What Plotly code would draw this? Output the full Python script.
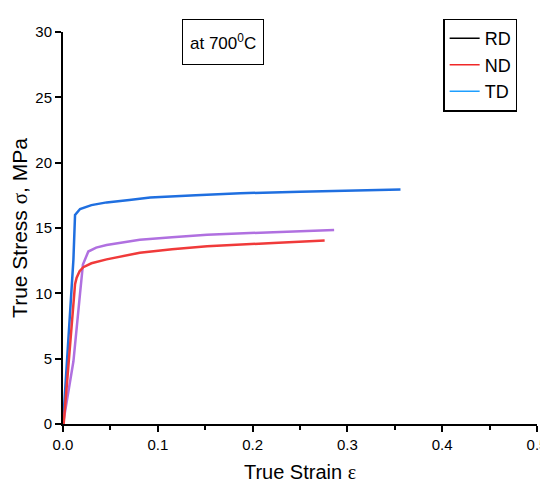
import plotly.graph_objects as go

# curve points (true strain, true stress in MPa)
blue_strain = [0.0, 0.0045, 0.0092, 0.011, 0.0127, 0.018, 0.03, 0.046, 0.07, 0.092, 0.14, 0.187, 0.25, 0.313, 0.356]
blue_stress = [0.0, 5.3, 10.7, 12.6, 16.0, 16.45, 16.75, 16.96, 17.15, 17.33, 17.5, 17.66, 17.78, 17.9, 17.95]

red_strain = [0.0007, 0.007, 0.0127, 0.0144, 0.0175, 0.0214, 0.03, 0.046, 0.081, 0.115, 0.152, 0.222, 0.276]
red_stress = [0.0, 5.5, 10.7, 11.2, 11.7, 12.0, 12.3, 12.6, 13.1, 13.38, 13.6, 13.86, 14.05]

purple_strain = [0.0, 0.011, 0.018, 0.021, 0.0267, 0.035, 0.046, 0.081, 0.115, 0.152, 0.222, 0.286]
purple_stress = [0.0, 4.8, 10.0, 12.2, 13.2, 13.5, 13.7, 14.1, 14.3, 14.48, 14.68, 14.85]

legend_names = ["RD", "ND", "TD"]
legend_colors = ["black", "#F02828", "#1E9FFF"]

fig = go.Figure()
fig.add_trace(go.Scatter(x=blue_strain, y=blue_stress, mode="lines",
                         line=dict(color="#1F6FE0", width=2.5), showlegend=False))
fig.add_trace(go.Scatter(x=purple_strain, y=purple_stress, mode="lines",
                         line=dict(color="#B070E0", width=2.5), showlegend=False))
fig.add_trace(go.Scatter(x=red_strain, y=red_stress, mode="lines",
                         line=dict(color="#F03A3A", width=2.5), showlegend=False))
for name, color in zip(legend_names, legend_colors):
    fig.add_trace(go.Scatter(x=[None], y=[None], mode="lines", name=name,
                             line=dict(color=color, width=1.5)))

fig.add_annotation(
    x=0.169, y=29.25, text="at 700<sup>0</sup>C", showarrow=False,
    font=dict(size=17, color="black"), height=30,
    bordercolor="black", borderwidth=1, borderpad=7, bgcolor="white",
)

axis_common = dict(
    showgrid=False, zeroline=False, showline=True, linecolor="black", linewidth=2,
    ticks="outside", ticklen=6, tickwidth=1.5, tickcolor="black",
    tickfont=dict(size=15, color="black"), automargin=False,
    minor=dict(ticks="outside", ticklen=4, tickwidth=1.5, tickcolor="black", nticks=2),
)

serif = '<span style="font-family:Liberation Serif, Times New Roman, serif">'

# page body adds 8px around the figure; keep it short enough that no scrollbar shows
fig.update_layout(
    width=540, height=475,
    margin=dict(l=55, r=11, t=14, b=59),
    paper_bgcolor="white", plot_bgcolor="white",
    font=dict(family="Liberation Sans, Arial, sans-serif", color="black"),
    xaxis=dict(range=[0, 0.5], dtick=0.1, tickformat=".1f",
               title=dict(text="True Strain " + serif + "ε</span>", font=dict(size=20), standoff=16),
               **axis_common),
    yaxis=dict(range=[0, 30], dtick=5,
               title=dict(text="True Stress " + serif + "σ</span>, MPa", font=dict(size=21), standoff=20),
               **axis_common),
    legend=dict(x=0.802, y=1.034, xanchor="left", yanchor="top",
                bordercolor="black", borderwidth=1.5, bgcolor="white",
                font=dict(size=18, color="black"), tracegroupgap=0, entrywidth=60),
)

fig.write_html("out.html")
